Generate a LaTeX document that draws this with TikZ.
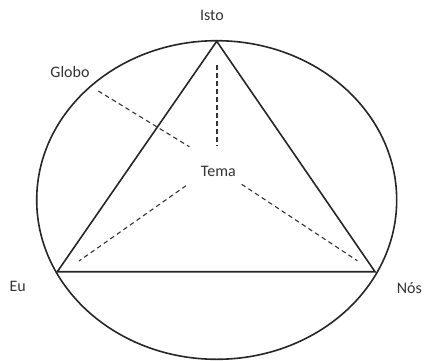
\documentclass[tikz,border=0pt]{standalone}
\usepackage{fontspec}
\setmainfont{Carlito}
\begin{document}
\begin{tikzpicture}[x=1pt,y=-1pt,
  lbl/.style={font=\fontsize{16}{18}\selectfont, text=black!80, inner sep=0pt},
  solidline/.style={line width=1.6pt, black!85},
  dashline/.style={line width=1.1pt, black!80, dash pattern=on 4.5pt off 3.5pt}]
\useasboundingbox (0,0) rectangle (424,360);
\draw[solidline] (216.7,200) ellipse [x radius=180, y radius=159.3];
\coordinate (top) at (216.7,41.3);
\coordinate (eu) at (57.3,271.7);
\coordinate (nos) at (375,271.7);
\draw[solidline, line join=miter] (top) -- (eu) -- (nos) -- cycle;
\coordinate (v1) at (217,65);
\coordinate (v2) at (217,145.7);
\coordinate (g1) at (98.3,91);
\coordinate (g2) at (189.3,146.7);
\coordinate (l1) at (186,185.7);
\coordinate (l2) at (79,261);
\coordinate (r1) at (241.7,184.3);
\coordinate (r2) at (357.3,260.7);
\draw[dashline] (v1) -- (v2);
\draw[dashline] (g1) -- (g2);
\draw[dashline] (l1) -- (l2);
\draw[dashline] (r1) -- (r2);
\node[lbl] (isto) at (212,15) {Isto};
\node[lbl] (globo) at (70,72) {Globo};
\node[lbl] (tema) at (218.3,171) {Tema};
\node[lbl] (eulbl) at (17.7,286) {Eu};
\node[lbl] (noslbl) at (409.3,288.3) {Nós};
\end{tikzpicture}
\end{document}
